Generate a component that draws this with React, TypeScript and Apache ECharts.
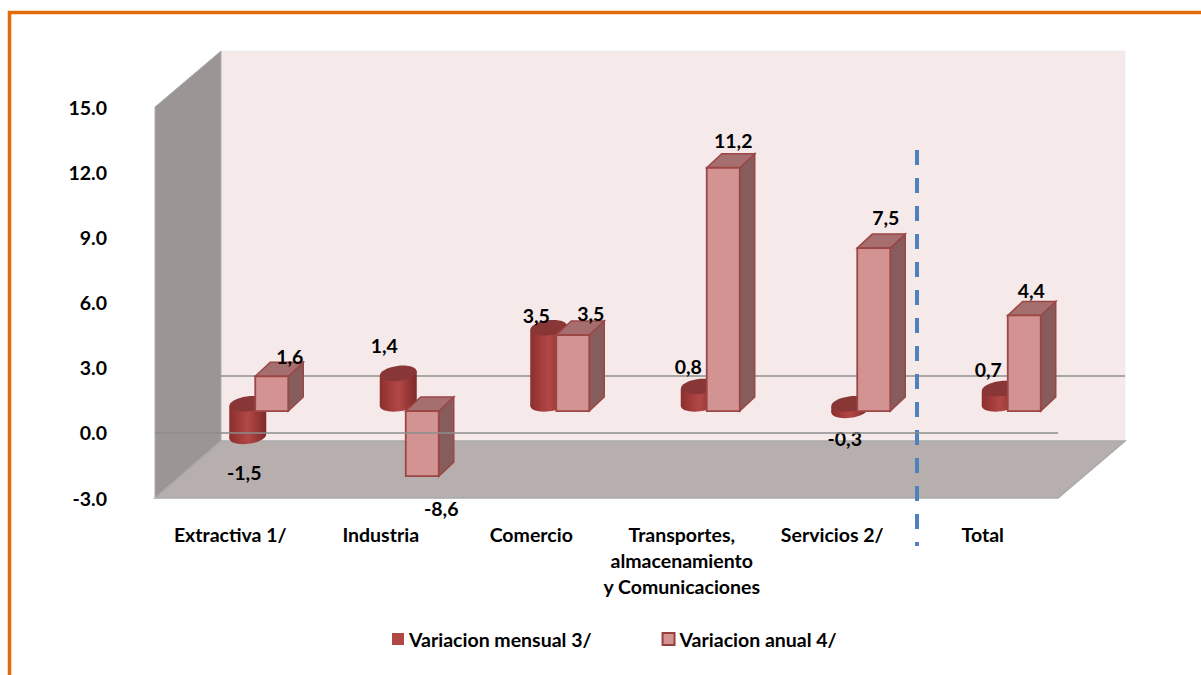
import React, { useEffect, useRef } from "react";
import * as echarts from "echarts";

// ---- data ----
const categories = [
  "Extractiva 1/",
  "Industria",
  "Comercio",
  "Transportes,\nalmacenamiento\ny Comunicaciones",
  "Servicios 2/",
  "Total",
];
const monthlyName = "Variacion mensual 3/";
const annualName = "Variacion anual 4/";
const monthlyValues = [-1.5, 1.4, 3.5, 0.8, -0.3, 0.7];
const annualValues = [1.6, -8.6, 3.5, 11.2, 7.5, 4.4];
const yMin = -3;
const yMax = 15;
const yStep = 3;

// ---- layout / style ----
const FONT = "Lato, Carlito, 'Open Sans', sans-serif";
const FS = 19.5;
const W = 1201;
const H = 675;
const GRID = { left: 155, right: 1058, top: 107, bottom: 498 };
const DEPTH = { x: 66, y: -57 };
const BAR_SHIFT_Y = -21.8;
const BOX = { shift: 25, width: 33, dx: 15, dy: -14 };
const CYL = { shift: 17.5, rx: 18.5, ry: 7.5, base: -29, tilt: 0.13 };
const annualLabelOffset = [[18, -20], [19, 32], [18, -22], [10, -27], [12, -31], [7, -25]];
const monthlyLabelOffset = [[-3.5, 36.5], [-14, -28], [-12.5, -12], [-11, -20], [-5, 28.5], [-12, -19]];
const fmt = (v: number) => v.toFixed(1).replace(".", ",");

const labelEl = (text: string, x: number, y: number) => ({
  type: "text",
  z2: 50,
  style: {
    text,
    x,
    y,
    align: "center",
    verticalAlign: "middle",
    fill: "#000",
    font: `bold ${FS}px ${FONT}`,
  },
});

const renderBox = (params: any, api: any) => {
  const i = api.value(0);
  const v = api.value(1);
  const clamped = Math.max(yMin, Math.min(yMax, v));
  const cx = api.coord([i, 0])[0];
  const y0 = api.coord([i, 0])[1] + BAR_SHIFT_Y;
  const yV = api.coord([i, clamped])[1] + BAR_SHIFT_Y;
  const x0 = cx + BOX.shift;
  const x1 = x0 + BOX.width;
  const top = Math.min(y0, yV);
  const bot = Math.max(y0, yV);
  const stroke = "#9C4645";
  const off = annualLabelOffset[i];
  return {
    type: "group",
    children: [
      {
        type: "polygon",
        shape: { points: [[x1, top], [x1 + BOX.dx, top + BOX.dy], [x1 + BOX.dx, bot + BOX.dy], [x1, bot]] },
        style: { fill: "#865C5C", stroke, lineWidth: 1.5 },
      },
      {
        type: "polygon",
        shape: { points: [[x0, top], [x0 + BOX.dx, top + BOX.dy], [x1 + BOX.dx, top + BOX.dy], [x1, top]] },
        style: { fill: "#A66F6F", stroke, lineWidth: 1.5 },
      },
      {
        type: "rect",
        shape: { x: x0, y: top, width: BOX.width, height: bot - top },
        style: { fill: "#D39392", stroke, lineWidth: 1.8 },
      },
      labelEl(fmt(v), (x0 + x1) / 2 + off[0], (v >= 0 ? top : bot) + off[1]),
    ],
  };
};

const renderCylinder = (params: any, api: any) => {
  const i = api.value(0);
  const v = api.value(1);
  const cx = api.coord([i, 0])[0] + CYL.shift;
  const zero = api.coord([i, 0])[1] + CYL.base;
  const yV = api.coord([i, v])[1] + CYL.base;
  const top = Math.min(zero, yV);
  const bot = Math.max(zero, yV);
  const d = CYL.rx * Math.sin(CYL.tilt);
  const off = monthlyLabelOffset[i];
  const bodyFill = new echarts.graphic.LinearGradient(0, 0, 1, 0, [
    { offset: 0, color: "#8C2F2E" },
    { offset: 0.5, color: "#B24846" },
    { offset: 1, color: "#7E2A29" },
  ]);
  const ellipse = (cy: number, fill: any) => ({
    type: "ellipse",
    shape: { cx: 0, cy: 0, rx: CYL.rx, ry: CYL.ry },
    x: cx,
    y: cy,
    rotation: CYL.tilt,
    style: { fill },
  });
  return {
    type: "group",
    children: [
      ellipse(bot, bodyFill),
      {
        type: "polygon",
        shape: {
          points: [
            [cx - CYL.rx, top + d],
            [cx + CYL.rx, top - d],
            [cx + CYL.rx, bot - d],
            [cx - CYL.rx, bot + d],
          ],
        },
        style: { fill: bodyFill },
      },
      ellipse(top, "#893636"),
      labelEl(fmt(v), cx + off[0], yV + off[1]),
    ],
  };
};

export default function App() {
  const ref = useRef<HTMLDivElement>(null);
  useEffect(() => {
    document.body.style.margin = "0";
    document.body.style.overflow = "hidden";
    const chart = echarts.init(ref.current!, undefined, { renderer: "svg" });
    const backZeroY = 433 + DEPTH.y;
    chart.setOption({
      animation: false,
      backgroundColor: "#fff",
      textStyle: { fontFamily: FONT },
      grid: {
        left: GRID.left,
        top: GRID.top,
        width: GRID.right - GRID.left,
        height: GRID.bottom - GRID.top,
        containLabel: false,
      },
      xAxis: {
        type: "category",
        data: categories,
        axisLine: { show: false },
        axisTick: { show: false },
        axisLabel: {
          interval: 0,
          margin: 23,
          color: "#000",
          fontFamily: FONT,
          fontWeight: "bold",
          fontSize: FS,
          lineHeight: 26,
        },
      },
      yAxis: {
        type: "value",
        min: yMin,
        max: yMax,
        interval: yStep,
        splitLine: { show: false },
        axisLine: { show: false },
        axisTick: { show: false },
        axisLabel: {
          margin: 48,
          color: "#000",
          fontFamily: FONT,
          fontWeight: "bold",
          fontSize: FS,
          padding: [11, 0, 0, 0],
          formatter: (v: number) => v.toFixed(1),
        },
      },
      legend: {
        left: 392,
        top: 629,
        padding: 0,
        icon: "rect",
        itemWidth: 12,
        itemHeight: 12,
        itemGap: 70,
        data: [monthlyName, annualName],
        textStyle: { color: "#000", fontFamily: FONT, fontWeight: "bold", fontSize: FS },
      },
      graphic: {
        elements: [
          {
            type: "polyline",
            shape: { points: [[9.5, H], [9.5, 12.5], [W, 12.5]] },
            style: { fill: "none", stroke: "#E36C0A", lineWidth: 3.5 },
          },
          {
            type: "polygon",
            shape: { points: [[GRID.left + DEPTH.x, 51], [1125, 51], [1125, 441], [GRID.left + DEPTH.x, 441]] },
            style: { fill: "#F5E9E9", stroke: "#F1ECEC", lineWidth: 1 },
          },
          {
            type: "polygon",
            shape: { points: [[GRID.left, GRID.top], [GRID.left + DEPTH.x, 51], [GRID.left + DEPTH.x, 441], [GRID.left, GRID.bottom]] },
            style: { fill: "#9B9695", stroke: "#ADADAD", lineWidth: 1 },
          },
          {
            type: "polygon",
            shape: { points: [[GRID.left, GRID.bottom], [GRID.left + DEPTH.x, 441], [1125, 441], [GRID.right, GRID.bottom]] },
            style: { fill: "#B7AEAE", stroke: "#A9A9A9", lineWidth: 1.5 },
          },
          {
            type: "line",
            shape: { x1: GRID.left + DEPTH.x, y1: backZeroY, x2: 1125, y2: backZeroY },
            style: { stroke: "#8F8F8F", lineWidth: 1.5 },
          },
          {
            type: "line",
            shape: { x1: 917, y1: 150, x2: 917, y2: 546 },
            style: { stroke: "#4F81BD", lineWidth: 4, lineDash: [15, 13] },
          },
        ],
      },
      series: [
        {
          name: monthlyName,
          type: "custom",
          renderItem: renderCylinder,
          data: monthlyValues.map((v, i) => [i, v]),
          encode: { x: 0, y: 1 },
          itemStyle: { color: "#B24846" },
          z: 2,
        },
        {
          name: annualName,
          type: "custom",
          renderItem: renderBox,
          data: annualValues.map((v, i) => [i, v]),
          encode: { x: 0, y: 1 },
          itemStyle: { color: "#D39392", borderColor: "#993F3E", borderWidth: 1 },
          z: 3,
          markLine: {
            silent: true,
            symbol: "none",
            label: { show: false },
            lineStyle: { color: "#8C8C8C", width: 1.5, type: "solid" },
            data: [{ yAxis: 0 }],
          },
        },
      ],
    });
    return () => chart.dispose();
  }, []);
  return <div ref={ref} style={{ width: W, height: H }} />;
}
